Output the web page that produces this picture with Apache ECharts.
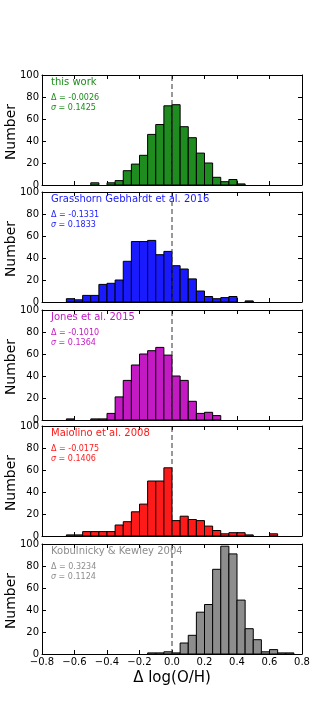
<!DOCTYPE html>
<html>
<head>
<meta charset="utf-8">
<script src="https://cdn.jsdelivr.net/npm/echarts@6/dist/echarts.min.js"></script>
<style>
  html, body { margin: 0; padding: 0; background: #fff; }
  #chart { width: 336px; height: 728px; }
</style>
</head>
<body>
<div id="chart"></div>
<script>
// bin left edges, width 0.05
var binWidth = 0.05;
var binStarts = [-0.80, -0.75, -0.70, -0.65, -0.60, -0.55, -0.50, -0.45,
                 -0.40, -0.35, -0.30, -0.25, -0.20, -0.15, -0.10, -0.05,
                  0.00,  0.05,  0.10,  0.15,  0.20,  0.25,  0.30,  0.35,
                  0.40,  0.45,  0.50,  0.55,  0.60,  0.65,  0.70,  0.75];

var thisWork  = [0, 0, 0, 0, 0, 0, 2, 0, 2, 4, 13, 19, 27, 46, 55, 72, 73, 53, 43, 29, 20, 7, 3, 5, 1, 0, 0, 0, 0, 0, 0, 0];
var grasshorn = [0, 0, 0, 3, 2, 6, 6, 16, 17, 20, 37, 55, 55, 56, 43, 46, 33, 30, 21, 10, 5, 3, 4, 5, 0, 1, 0, 0, 0, 0, 0, 0];
var jones     = [0, 0, 0, 1, 0, 0, 1, 1, 6, 21, 36, 50, 60, 63, 66, 59, 40, 36, 17, 6, 7, 4, 0, 0, 0, 0, 0, 0, 0, 0, 0, 0];
var maiolino  = [0, 0, 0, 1, 1, 4, 4, 4, 4, 10, 13, 22, 29, 50, 50, 62, 14, 18, 15, 14, 9, 5, 2, 3, 3, 1, 0, 0, 2, 0, 0, 0];
var kobulnicky = [0, 0, 0, 0, 0, 0, 0, 0, 0, 0, 0, 0, 0, 1, 1, 2, 1, 10, 17, 38, 45, 77, 98, 91, 49, 23, 13, 2, 4, 1, 1, 0];

var panelNames = ['this work', 'Grasshorn Gebhardt et al. 2016', 'Jones et al. 2015', 'Maiolino et al. 2008', 'Kobulnicky & Kewley 2004'];
var panelMeans = ['-0.0026', '-0.1331', '-0.1010', '-0.0175', '0.3234'];
var panelSigmas = ['0.1425', '0.1833', '0.1364', '0.1406', '0.1124'];
var panelCounts = [thisWork, grasshorn, jones, maiolino, kobulnicky];

var barColors = ['#1e8c1e', '#1a1aff', '#c41ac4', '#ff1a1a', '#8d8d8d'];
var textColors = ['#1a8c1a', '#1a1aff', '#c41ac4', '#ff1a1a', '#8d8d8d'];

var xTicks = { min: -0.8, max: 0.8, interval: 0.2 };
var yTicks = { min: 0, max: 100, interval: 20 };

var panelTops = [75, 192, 310, 426, 544];
var panelHeight = 110;

function fmtX(v) {
    var s = v.toFixed(1);
    if (s === '-0.0') s = '0.0';
    return s.replace('-', '\u2212');
}

var chart = echarts.init(document.getElementById('chart'));

var grids = [], xAxes = [], yAxes = [], series = [], titles = [], graphics = [];
var fontFam = 'DejaVu Sans';

for (var k = 0; k < panelCounts.length; k++) {
    var last = (k == panelCounts.length - 1);
    grids.push({ left: 42, right: 34, top: panelTops[k], height: panelHeight,
                 containLabel: false, outerBoundsMode: 'none' });

    // bottom x axis
    xAxes.push({
        type: 'value', gridIndex: k, position: 'bottom',
        min: xTicks.min, max: xTicks.max, interval: xTicks.interval,
        axisLine: { onZero: false, lineStyle: { color: '#000', width: 1 } },
        axisTick: { inside: true, length: 4, lineStyle: { color: '#000' } },
        axisLabel: { show: last, color: '#000', fontSize: 10, fontFamily: fontFam, margin: 3, formatter: fmtX },
        splitLine: { show: false },
        name: last ? 'Δ log(O/H)' : '',
        nameLocation: 'middle', nameGap: 17,
        nameTextStyle: { fontSize: 15, color: '#000', fontFamily: fontFam }
    });
    // top x axis (ticks only)
    xAxes.push({
        type: 'value', gridIndex: k, position: 'top',
        min: xTicks.min, max: xTicks.max, interval: xTicks.interval,
        axisLine: { onZero: false, lineStyle: { color: '#000', width: 1 } },
        axisTick: { inside: true, length: 4, lineStyle: { color: '#000' } },
        axisLabel: { show: false },
        splitLine: { show: false }
    });
    // left y axis
    yAxes.push({
        type: 'value', gridIndex: k, position: 'left',
        min: yTicks.min, max: yTicks.max, interval: yTicks.interval,
        axisLine: { show: true, onZero: false, lineStyle: { color: '#000', width: 1 } },
        axisTick: { show: true, inside: true, length: 4, lineStyle: { color: '#000' } },
        axisLabel: { color: '#000', fontSize: 10, fontFamily: fontFam, margin: 3 },
        splitLine: { show: false }
    });
    // right y axis (ticks only)
    yAxes.push({
        type: 'value', gridIndex: k, position: 'right',
        min: yTicks.min, max: yTicks.max, interval: yTicks.interval,
        axisLine: { show: true, onZero: false, lineStyle: { color: '#000', width: 1 } },
        axisTick: { show: true, inside: true, length: 4, lineStyle: { color: '#000' } },
        axisLabel: { show: false },
        splitLine: { show: false }
    });

    // y axis title
    graphics.push({
        type: 'text',
        x: 11, y: panelTops[k] + panelHeight / 2 + 2,
        rotation: Math.PI / 2,
        style: {
            text: 'Number', fill: '#000',
            font: '14px "DejaVu Sans"',
            align: 'center', verticalAlign: 'middle'
        }
    });

    var data = [];
    for (var i = 0; i < binStarts.length; i++) {
        if (panelCounts[k][i] > 0) data.push([binStarts[i], panelCounts[k][i]]);
    }

    series.push({
        type: 'custom',
        xAxisIndex: 2 * k, yAxisIndex: 2 * k,
        encode: { x: 0, y: 1 },
        data: data,
        silent: true,
        renderItem: (function (color) {
            return function (params, api) {
                var p0 = api.coord([api.value(0), api.value(1)]);
                var p1 = api.coord([api.value(0) + binWidth, 0]);
                return {
                    type: 'rect',
                    shape: { x: p0[0], y: p0[1], width: p1[0] - p0[0], height: p1[1] - p0[1] },
                    style: { fill: color, stroke: '#000', lineWidth: 1 }
                };
            };
        })(barColors[k])
    });

    // dashed line at zero
    series.push({
        type: 'line',
        xAxisIndex: 2 * k, yAxisIndex: 2 * k,
        data: [[0, yTicks.min], [0, yTicks.max]],
        symbol: 'none', silent: true,
        lineStyle: { color: '#333', width: 1, type: [5, 3] },
        z: 5
    });

    titles.push({
        text: panelNames[k],
        subtext: 'Δ = ' + panelMeans[k] + '\n{s|σ} = ' + panelSigmas[k],
        left: 51, top: panelTops[k] + 2,
        padding: 0, itemGap: 6,
        textStyle: { fontSize: 10, fontWeight: 'normal', color: textColors[k], fontFamily: fontFam },
        subtextStyle: {
            fontSize: 8, lineHeight: 10, color: textColors[k], fontFamily: fontFam,
            rich: { s: { fontSize: 8, fontStyle: 'italic', color: textColors[k], fontFamily: fontFam } }
        }
    });
}

var option = {
    animation: false,
    title: titles,
    grid: grids,
    xAxis: xAxes,
    yAxis: yAxes,
    graphic: graphics,
    series: series
};

chart.setOption(option);
</script>
</body>
</html>
